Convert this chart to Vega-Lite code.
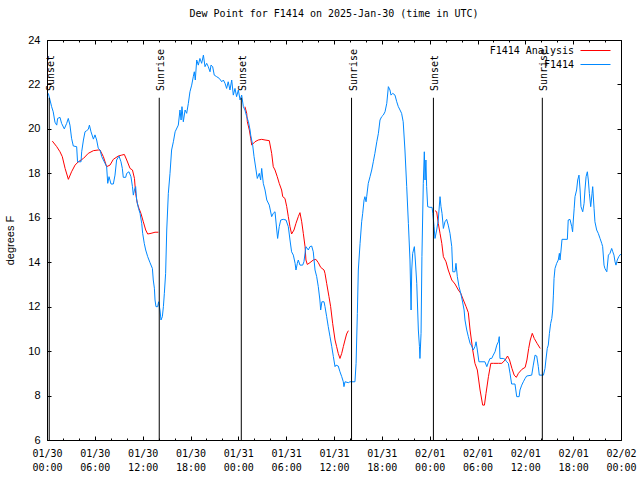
{
"$schema":"https://vega.github.io/schema/vega-lite/v6.json",
"width":574,"height":400,"autosize":"none",
"padding":{"left":47,"top":40,"right":19,"bottom":40},
"background":"white",
"config":{"view":{"stroke":"black","strokeWidth":1},
 "axis":{"grid":false,"domain":false,"tickColor":"black","labelColor":"black","tickWidth":1}},
"title":{"text":"Dew Point for F1414 on 2025-Jan-30 (time in UTC)","font":"DejaVu Sans Mono","fontSize":10,"fontWeight":"normal","color":"black","anchor":"middle","frame":"group","offset":15},
"datasets":{
"analysis":[
{"h":0.67,"v":19.45,"seg":1},{"h":1.22,"v":19.2,"seg":1},{"h":1.63,"v":18.97,"seg":1},{"h":1.92,"v":18.75,"seg":1},{"h":2.27,"v":18.22,"seg":1},{"h":2.68,"v":17.73,"seg":1},{"h":3.08,"v":18.07,"seg":1},{"h":3.52,"v":18.37,"seg":1},{"h":3.93,"v":18.52,"seg":1},{"h":4.57,"v":18.67,"seg":1},{"h":5.18,"v":18.9,"seg":1},{"h":5.82,"v":19.02,"seg":1},{"h":6.43,"v":19.05,"seg":1},{"h":6.65,"v":19.05,"seg":1},{"h":7.07,"v":18.75,"seg":1},{"h":7.48,"v":18.3,"seg":1},{"h":7.9,"v":18.37,"seg":1},{"h":8.32,"v":18.63,"seg":1},{"h":8.95,"v":18.78,"seg":1},{"h":9.37,"v":18.82,"seg":1},{"h":9.7,"v":18.85,"seg":1},{"h":10.0,"v":18.6,"seg":1},{"h":10.42,"v":18.22,"seg":1},{"h":10.72,"v":18.15,"seg":1},{"h":10.97,"v":17.77,"seg":1},{"h":11.12,"v":17.1,"seg":1},{"h":11.33,"v":16.65,"seg":1},{"h":11.53,"v":16.43,"seg":1},{"h":11.78,"v":16.2,"seg":1},{"h":12.08,"v":15.82,"seg":1},{"h":12.38,"v":15.45,"seg":1},{"h":12.63,"v":15.27,"seg":1},{"h":13.05,"v":15.3,"seg":1},{"h":13.55,"v":15.35,"seg":1},{"h":13.97,"v":15.35,"seg":1},
{"h":24.83,"v":21.0,"seg":2},{"h":25.05,"v":20.7,"seg":2},{"h":25.13,"v":20.32,"seg":2},{"h":25.38,"v":19.95,"seg":2},{"h":25.55,"v":19.58,"seg":2},{"h":25.68,"v":19.27,"seg":2},{"h":26.08,"v":19.42,"seg":2},{"h":26.5,"v":19.5,"seg":2},{"h":26.93,"v":19.53,"seg":2},{"h":27.35,"v":19.5,"seg":2},{"h":27.88,"v":19.47,"seg":2},{"h":28.18,"v":18.9,"seg":2},{"h":28.38,"v":18.3,"seg":2},{"h":28.6,"v":18.15,"seg":2},{"h":28.88,"v":17.85,"seg":2},{"h":29.13,"v":17.55,"seg":2},{"h":29.43,"v":17.25,"seg":2},{"h":29.57,"v":16.95,"seg":2},{"h":29.85,"v":16.87,"seg":2},{"h":30.07,"v":16.5,"seg":2},{"h":30.27,"v":16.05,"seg":2},{"h":30.48,"v":15.6,"seg":2},{"h":30.68,"v":15.27,"seg":2},{"h":30.98,"v":15.45,"seg":2},{"h":31.23,"v":15.75,"seg":2},{"h":31.52,"v":16.05,"seg":2},{"h":31.73,"v":16.23,"seg":2},{"h":31.95,"v":15.82,"seg":2},{"h":32.15,"v":15.3,"seg":2},{"h":32.37,"v":14.7,"seg":2},{"h":32.48,"v":14.1,"seg":2},{"h":32.65,"v":13.9,"seg":2},{"h":32.98,"v":13.98,"seg":2},{"h":33.4,"v":14.1,"seg":2},{"h":33.73,"v":14.13,"seg":2},{"h":34.03,"v":13.98,"seg":2},{"h":34.33,"v":13.77,"seg":2},{"h":34.75,"v":13.65,"seg":2},{"h":34.87,"v":13.5,"seg":2},{"h":35.08,"v":13.05,"seg":2},{"h":35.37,"v":12.45,"seg":2},{"h":35.58,"v":12.0,"seg":2},{"h":35.83,"v":11.25,"seg":2},{"h":36.13,"v":10.5,"seg":2},{"h":36.33,"v":10.2,"seg":2},{"h":36.53,"v":9.9,"seg":2},{"h":36.75,"v":9.67,"seg":2},{"h":36.97,"v":9.9,"seg":2},{"h":37.17,"v":10.2,"seg":2},{"h":37.38,"v":10.5,"seg":2},{"h":37.58,"v":10.77,"seg":2},{"h":37.8,"v":10.92,"seg":2},
{"h":48.67,"v":16.32,"seg":3},{"h":48.88,"v":16.27,"seg":3},{"h":49.08,"v":15.75,"seg":3},{"h":49.3,"v":15.3,"seg":3},{"h":49.52,"v":14.85,"seg":3},{"h":49.72,"v":14.25,"seg":3},{"h":50.05,"v":14.02,"seg":3},{"h":50.33,"v":13.65,"seg":3},{"h":50.77,"v":13.2,"seg":3},{"h":51.18,"v":13.02,"seg":3},{"h":51.6,"v":12.75,"seg":3},{"h":51.9,"v":12.6,"seg":3},{"h":52.23,"v":12.3,"seg":3},{"h":52.57,"v":12.0,"seg":3},{"h":52.85,"v":11.73,"seg":3},{"h":53.07,"v":10.95,"seg":3},{"h":53.4,"v":10.05,"seg":3},{"h":53.68,"v":9.45,"seg":3},{"h":53.98,"v":9.15,"seg":3},{"h":54.32,"v":8.25,"seg":3},{"h":54.65,"v":7.57,"seg":3},{"h":54.87,"v":7.57,"seg":3},{"h":55.07,"v":8.1,"seg":3},{"h":55.37,"v":8.85,"seg":3},{"h":55.67,"v":9.45,"seg":3},{"h":56.0,"v":9.45,"seg":3},{"h":56.62,"v":9.45,"seg":3},{"h":57.05,"v":9.45,"seg":3},{"h":57.47,"v":9.6,"seg":3},{"h":57.77,"v":9.78,"seg":3},{"h":58.02,"v":9.6,"seg":3},{"h":58.32,"v":9.22,"seg":3},{"h":58.6,"v":8.92,"seg":3},{"h":58.87,"v":8.82,"seg":3},{"h":59.13,"v":9.0,"seg":3},{"h":59.57,"v":9.18,"seg":3},{"h":59.98,"v":9.27,"seg":3},{"h":60.2,"v":9.6,"seg":3},{"h":60.42,"v":10.12,"seg":3},{"h":60.62,"v":10.5,"seg":3},{"h":60.87,"v":10.8,"seg":3},{"h":61.12,"v":10.57,"seg":3},{"h":61.47,"v":10.35,"seg":3},{"h":61.87,"v":10.12,"seg":3}
],
"obs":[
{"h":0.17,"v":21.6},{"h":0.58,"v":21.0},{"h":0.78,"v":20.77},{"h":1.0,"v":20.3},{"h":1.22,"v":20.17},{"h":1.33,"v":20.47},{"h":1.63,"v":20.52},{"h":1.83,"v":20.25},{"h":2.17,"v":20.0},{"h":2.47,"v":20.25},{"h":2.67,"v":20.47},{"h":2.88,"v":20.17},{"h":3.08,"v":19.58},{"h":3.3,"v":19.23},{"h":3.72,"v":19.2},{"h":3.83,"v":18.52},{"h":4.27,"v":18.52},{"h":4.35,"v":18.97},{"h":4.57,"v":19.5},{"h":4.77,"v":19.87},{"h":4.97,"v":19.92},{"h":5.18,"v":19.98},{"h":5.32,"v":20.17},{"h":5.52,"v":19.87},{"h":5.82,"v":19.54},{"h":6.02,"v":19.73},{"h":6.23,"v":19.5},{"h":6.43,"v":19.13},{"h":6.65,"v":19.05},{"h":6.87,"v":18.75},{"h":7.28,"v":18.45},{"h":7.48,"v":18.3},{"h":7.62,"v":17.55},{"h":7.78,"v":17.85},{"h":8.03,"v":17.52},{"h":8.32,"v":17.52},{"h":8.53,"v":17.92},{"h":8.73,"v":18.6},{"h":9.03,"v":18.78},{"h":9.28,"v":18.52},{"h":9.45,"v":18.22},{"h":9.57,"v":17.82},{"h":9.87,"v":17.82},{"h":10.0,"v":18.0},{"h":10.28,"v":18.07},{"h":10.53,"v":17.85},{"h":10.72,"v":17.4},{"h":10.83,"v":17.02},{"h":10.97,"v":17.25},{"h":11.12,"v":17.4},{"h":11.25,"v":16.8},{"h":11.47,"v":16.43},{"h":11.67,"v":16.2},{"h":11.88,"v":15.75},{"h":12.0,"v":15.3},{"h":12.2,"v":14.85},{"h":12.38,"v":14.55},{"h":12.63,"v":14.25},{"h":12.92,"v":13.98},{"h":13.22,"v":13.72},{"h":13.33,"v":13.2},{"h":13.47,"v":12.83},{"h":13.55,"v":12.3},{"h":13.67,"v":12.0},{"h":13.88,"v":12.0},{"h":14.0,"v":12.22},{"h":14.17,"v":11.85},{"h":14.3,"v":11.4},{"h":14.47,"v":11.55},{"h":14.6,"v":12.0},{"h":14.72,"v":12.6},{"h":14.88,"v":13.5},{"h":15.02,"v":15.45},{"h":15.22,"v":17.1},{"h":15.43,"v":18.0},{"h":15.63,"v":19.05},{"h":15.85,"v":19.42},{"h":16.07,"v":19.87},{"h":16.47,"v":20.17},{"h":16.68,"v":20.85},{"h":16.82,"v":20.4},{"h":16.93,"v":21.0},{"h":17.1,"v":20.32},{"h":17.32,"v":20.85},{"h":17.52,"v":20.7},{"h":17.73,"v":21.15},{"h":17.93,"v":21.67},{"h":18.15,"v":21.97},{"h":18.35,"v":22.35},{"h":18.48,"v":22.57},{"h":18.6,"v":22.2},{"h":18.78,"v":23.1},{"h":18.98,"v":22.87},{"h":19.18,"v":23.17},{"h":19.4,"v":22.95},{"h":19.62,"v":23.32},{"h":19.82,"v":22.8},{"h":20.03,"v":22.95},{"h":20.23,"v":22.8},{"h":20.45,"v":22.57},{"h":20.57,"v":22.87},{"h":20.78,"v":22.8},{"h":20.98,"v":22.42},{"h":21.28,"v":22.35},{"h":21.62,"v":22.27},{"h":21.92,"v":22.12},{"h":22.12,"v":22.2},{"h":22.33,"v":22.05},{"h":22.53,"v":21.82},{"h":22.73,"v":22.12},{"h":22.95,"v":21.75},{"h":23.17,"v":22.2},{"h":23.37,"v":21.52},{"h":23.58,"v":21.82},{"h":23.78,"v":21.45},
{"h":24.0,"v":21.75},{"h":24.22,"v":21.3},{"h":24.42,"v":21.52},{"h":24.63,"v":21.0},{"h":24.83,"v":20.85},{"h":25.05,"v":20.55},{"h":25.27,"v":20.32},{"h":25.47,"v":19.95},{"h":25.55,"v":19.72},{"h":25.8,"v":19.27},{"h":25.97,"v":18.75},{"h":26.22,"v":18.15},{"h":26.38,"v":17.77},{"h":26.63,"v":18.0},{"h":26.8,"v":17.7},{"h":26.93,"v":18.22},{"h":27.13,"v":17.55},{"h":27.35,"v":17.25},{"h":27.57,"v":16.8},{"h":27.88,"v":16.57},{"h":28.18,"v":16.05},{"h":28.38,"v":16.2},{"h":28.6,"v":16.27},{"h":28.82,"v":15.45},{"h":28.93,"v":15.07},{"h":29.13,"v":15.6},{"h":29.32,"v":15.9},{"h":29.63,"v":15.93},{"h":29.98,"v":15.9},{"h":30.27,"v":15.6},{"h":30.48,"v":15.0},{"h":30.68,"v":14.47},{"h":30.9,"v":14.32},{"h":31.12,"v":13.95},{"h":31.23,"v":13.65},{"h":31.4,"v":13.95},{"h":31.52,"v":14.1},{"h":31.73,"v":13.87},{"h":32.07,"v":13.87},{"h":32.23,"v":14.02},{"h":32.48,"v":14.7},{"h":32.78,"v":14.55},{"h":32.98,"v":14.7},{"h":33.2,"v":14.73},{"h":33.4,"v":14.47},{"h":33.62,"v":13.65},{"h":33.83,"v":13.35},{"h":34.03,"v":12.9},{"h":34.23,"v":12.3},{"h":34.33,"v":11.85},{"h":34.48,"v":12.22},{"h":34.75,"v":12.22},{"h":34.87,"v":12.0},{"h":35.08,"v":11.55},{"h":35.28,"v":11.1},{"h":35.5,"v":10.65},{"h":35.72,"v":10.2},{"h":35.92,"v":9.75},{"h":36.13,"v":9.3},{"h":36.25,"v":9.37},{"h":36.53,"v":9.33},{"h":36.75,"v":9.07},{"h":36.97,"v":8.85},{"h":37.17,"v":8.62},{"h":37.25,"v":8.4},{"h":37.38,"v":8.62},{"h":37.8,"v":8.58},{"h":38.0,"v":8.62},{"h":38.63,"v":8.62},{"h":38.77,"v":9.45},{"h":38.93,"v":11.7},{"h":39.05,"v":13.65},{"h":39.27,"v":14.85},{"h":39.47,"v":15.82},{"h":39.6,"v":16.2},{"h":39.77,"v":16.8},{"h":39.88,"v":16.95},{"h":40.02,"v":16.72},{"h":40.1,"v":16.95},{"h":40.3,"v":17.55},{"h":40.52,"v":17.85},{"h":40.73,"v":18.15},{"h":40.93,"v":18.52},{"h":41.13,"v":18.9},{"h":41.37,"v":19.42},{"h":41.57,"v":19.8},{"h":41.77,"v":20.4},{"h":41.98,"v":20.55},{"h":42.18,"v":20.62},{"h":42.4,"v":20.77},{"h":42.62,"v":21.15},{"h":42.82,"v":21.9},{"h":43.02,"v":21.75},{"h":43.15,"v":21.52},{"h":43.37,"v":21.6},{"h":43.65,"v":21.52},{"h":43.87,"v":21.22},{"h":44.07,"v":21.0},{"h":44.28,"v":20.85},{"h":44.48,"v":20.7},{"h":44.68,"v":20.32},{"h":44.9,"v":19.05},{"h":45.12,"v":17.4},{"h":45.33,"v":15.75},{"h":45.53,"v":14.1},{"h":45.67,"v":11.85},{"h":45.75,"v":13.65},{"h":45.87,"v":14.4},{"h":46.08,"v":14.7},{"h":46.2,"v":14.1},{"h":46.38,"v":13.05},{"h":46.58,"v":10.95},{"h":46.72,"v":10.2},{"h":46.78,"v":9.67},{"h":46.92,"v":10.8},{"h":47.03,"v":14.25},{"h":47.2,"v":17.55},{"h":47.33,"v":18.97},{"h":47.42,"v":17.7},{"h":47.53,"v":18.6},{"h":47.62,"v":17.4},{"h":47.75,"v":16.5},
{"h":48.03,"v":16.47},{"h":48.3,"v":16.47},{"h":48.4,"v":16.2},{"h":48.55,"v":15.6},{"h":48.67,"v":15.07},{"h":48.88,"v":15.45},{"h":49.08,"v":15.9},{"h":49.3,"v":16.95},{"h":49.42,"v":16.5},{"h":49.55,"v":16.2},{"h":49.72,"v":15.52},{"h":49.92,"v":15.82},{"h":50.13,"v":15.93},{"h":50.33,"v":15.67},{"h":50.55,"v":15.3},{"h":50.77,"v":14.7},{"h":50.9,"v":13.57},{"h":51.18,"v":13.57},{"h":51.3,"v":13.95},{"h":51.47,"v":13.35},{"h":51.68,"v":12.9},{"h":51.9,"v":12.6},{"h":52.08,"v":12.3},{"h":52.32,"v":11.85},{"h":52.43,"v":11.4},{"h":52.65,"v":10.95},{"h":52.85,"v":10.65},{"h":53.07,"v":10.35},{"h":53.27,"v":10.23},{"h":53.47,"v":10.05},{"h":53.68,"v":10.2},{"h":53.82,"v":10.42},{"h":53.98,"v":10.05},{"h":54.18,"v":9.52},{"h":54.93,"v":9.52},{"h":55.17,"v":9.3},{"h":55.37,"v":9.5},{"h":55.57,"v":9.67},{"h":55.78,"v":9.67},{"h":55.98,"v":9.82},{"h":56.2,"v":9.97},{"h":56.42,"v":10.27},{"h":56.62,"v":10.42},{"h":56.73,"v":10.65},{"h":56.82,"v":9.67},{"h":57.23,"v":9.67},{"h":57.45,"v":9.63},{"h":57.67,"v":9.52},{"h":57.87,"v":9.45},{"h":58.08,"v":9.0},{"h":58.28,"v":8.52},{"h":58.7,"v":8.52},{"h":58.92,"v":7.95},{"h":59.22,"v":7.95},{"h":59.33,"v":8.25},{"h":59.55,"v":8.47},{"h":59.75,"v":8.62},{"h":59.97,"v":8.77},{"h":60.17,"v":8.88},{"h":60.8,"v":8.92},{"h":61.0,"v":9.37},{"h":61.22,"v":9.82},{"h":61.43,"v":9.78},{"h":61.63,"v":9.3},{"h":61.75,"v":8.92},{"h":62.27,"v":8.92},{"h":62.47,"v":9.22},{"h":62.58,"v":9.6},{"h":62.75,"v":10.12},{"h":62.88,"v":10.27},{"h":63.02,"v":10.8},{"h":63.18,"v":11.25},{"h":63.32,"v":11.47},{"h":63.43,"v":11.85},{"h":63.52,"v":12.52},{"h":63.6,"v":13.27},{"h":63.72,"v":13.72},{"h":63.93,"v":13.95},{"h":64.13,"v":14.1},{"h":64.27,"v":14.4},{"h":64.35,"v":14.1},{"h":64.48,"v":14.55},{"h":64.6,"v":15.03},{"h":65.27,"v":15.03},{"h":65.38,"v":15.9},{"h":65.6,"v":15.93},{"h":65.82,"v":15.6},{"h":65.93,"v":15.37},{"h":66.02,"v":15.9},{"h":66.13,"v":16.43},{"h":66.23,"v":16.95},{"h":66.43,"v":17.25},{"h":66.57,"v":17.7},{"h":66.73,"v":17.92},{"h":66.87,"v":17.25},{"h":66.98,"v":16.5},{"h":67.2,"v":16.27},{"h":67.37,"v":16.65},{"h":67.48,"v":17.25},{"h":67.62,"v":17.85},{"h":67.78,"v":18.07},{"h":67.9,"v":17.7},{"h":68.03,"v":17.1},{"h":68.2,"v":16.5},{"h":68.37,"v":17.1},{"h":68.45,"v":17.4},{"h":68.62,"v":16.43},{"h":68.73,"v":15.82},{"h":68.95,"v":15.45},{"h":69.15,"v":15.3},{"h":69.37,"v":15.07},{"h":69.58,"v":14.85},{"h":69.7,"v":14.7},{"h":69.87,"v":13.87},{"h":69.98,"v":13.72},{"h":70.22,"v":13.57},{"h":70.42,"v":14.32},{"h":70.62,"v":14.4},{"h":70.83,"v":14.62},{"h":70.97,"v":14.47},{"h":71.12,"v":14.32},{"h":71.25,"v":14.02},{"h":71.37,"v":13.87},{"h":71.53,"v":14.1},{"h":71.72,"v":14.25},{"h":71.97,"v":14.37}
],
"sun":[
{"h":0.28,"event":"Sunset"},{"h":14.08,"event":"Sunrise"},{"h":24.37,"event":"Sunset"},{"h":38.2,"event":"Sunrise"},{"h":48.47,"event":"Sunset"},{"h":62.13,"event":"Sunrise"}
]},
"layer":[
{"data":{"name":"analysis"},"mark":{"type":"line","strokeWidth":1},
 "encoding":{
  "x":{"field":"h","type":"quantitative","scale":{"domain":[0,72],"nice":false,"zero":false},
   "axis":{"orient":"bottom","title":null,"values":[0,6,12,18,24,30,36,42,48,54,60,66,72],"tickSize":-4,"labelExpr":"[datum.value < 24 ? '01/30' : datum.value < 48 ? '01/31' : datum.value < 72 ? '02/01' : '02/02', (datum.value % 24 < 10 ? '0' : '') + (datum.value % 24) + ':00']","labelFont":"DejaVu Sans Mono","labelFontSize":10,"labelLineHeight":14,"labelPadding":12,"labelBaseline":"top","labelAlign":"center","labelFlush":false,"labelOverlap":false}},
  "y":{"field":"v","type":"quantitative","scale":{"domain":[6,24],"nice":false,"zero":false},
   "axis":{"orient":"left","values":[6,8,10,12,14,16,18,20,22,24],"tickSize":-4,"labelPadding":11,"labelFont":"Liberation Sans","labelFontSize":11,"title":"degrees F","titleFont":"Liberation Sans","titleFontSize":11,"titleFontWeight":"normal","titleColor":"black","titleX":-37,"titleY":200,"titleAngle":270,"titleAlign":"center","titleBaseline":"middle"}},
  "detail":{"field":"seg","type":"nominal"},
  "color":{"datum":"F1414 Analysis","type":"nominal","scale":{"domain":["F1414 Analysis","F1414"],"range":["#ff0000","#0088ff"]},
   "legend":{"orient":"none","legendX":543,"legendY":5,"title":null,"symbolType":"M-3,0H3","symbolSize":100,"symbolStrokeWidth":1,"labelAlign":"right","labelOffset":-27,"labelFont":"DejaVu Sans Mono","labelFontSize":10,"labelColor":"black","rowPadding":3,"padding":0}}
 }},
{"data":{"name":"obs"},"mark":{"type":"line","strokeWidth":1},
 "encoding":{
  "x":{"field":"h","type":"quantitative","axis":{"orient":"top","title":null,"values":[0,6,12,18,24,30,36,42,48,54,60,66,72],"tickSize":-4,"labels":false}},
  "y":{"field":"v","type":"quantitative","axis":{"orient":"right","title":null,"values":[6,8,10,12,14,16,18,20,22,24],"tickSize":-4,"labels":false}},
  "color":{"datum":"F1414","type":"nominal"}
 }},
{"data":{"name":"sun"},"mark":{"type":"rule","color":"black","strokeWidth":1},
 "encoding":{
  "x":{"field":"h","type":"quantitative","axis":{"orient":"bottom","title":null,"values":[0,2,4,6,8,10,12,14,16,18,20,22,24,26,28,30,32,34,36,38,40,42,44,46,48,50,52,54,56,58,60,62,64,66,68,70,72],"tickSize":-2,"labels":false}},
  "y":{"datum":21.4,"type":"quantitative","axis":null},
  "y2":{"datum":6}
 }},
{"data":{"name":"sun"},"mark":{"type":"text","angle":270,"align":"left","baseline":"middle","dy":2,"font":"DejaVu Sans Mono","fontSize":10,"color":"black"},
 "encoding":{
  "x":{"field":"h","type":"quantitative","axis":{"orient":"top","title":null,"values":[0,2,4,6,8,10,12,14,16,18,20,22,24,26,28,30,32,34,36,38,40,42,44,46,48,50,52,54,56,58,60,62,64,66,68,70,72],"tickSize":-2,"labels":false}},
  "y":{"datum":21.7,"type":"quantitative","axis":null},
  "text":{"field":"event","type":"nominal"}
 }}
],
"resolve":{"axis":{"x":"independent","y":"independent"}}
}
